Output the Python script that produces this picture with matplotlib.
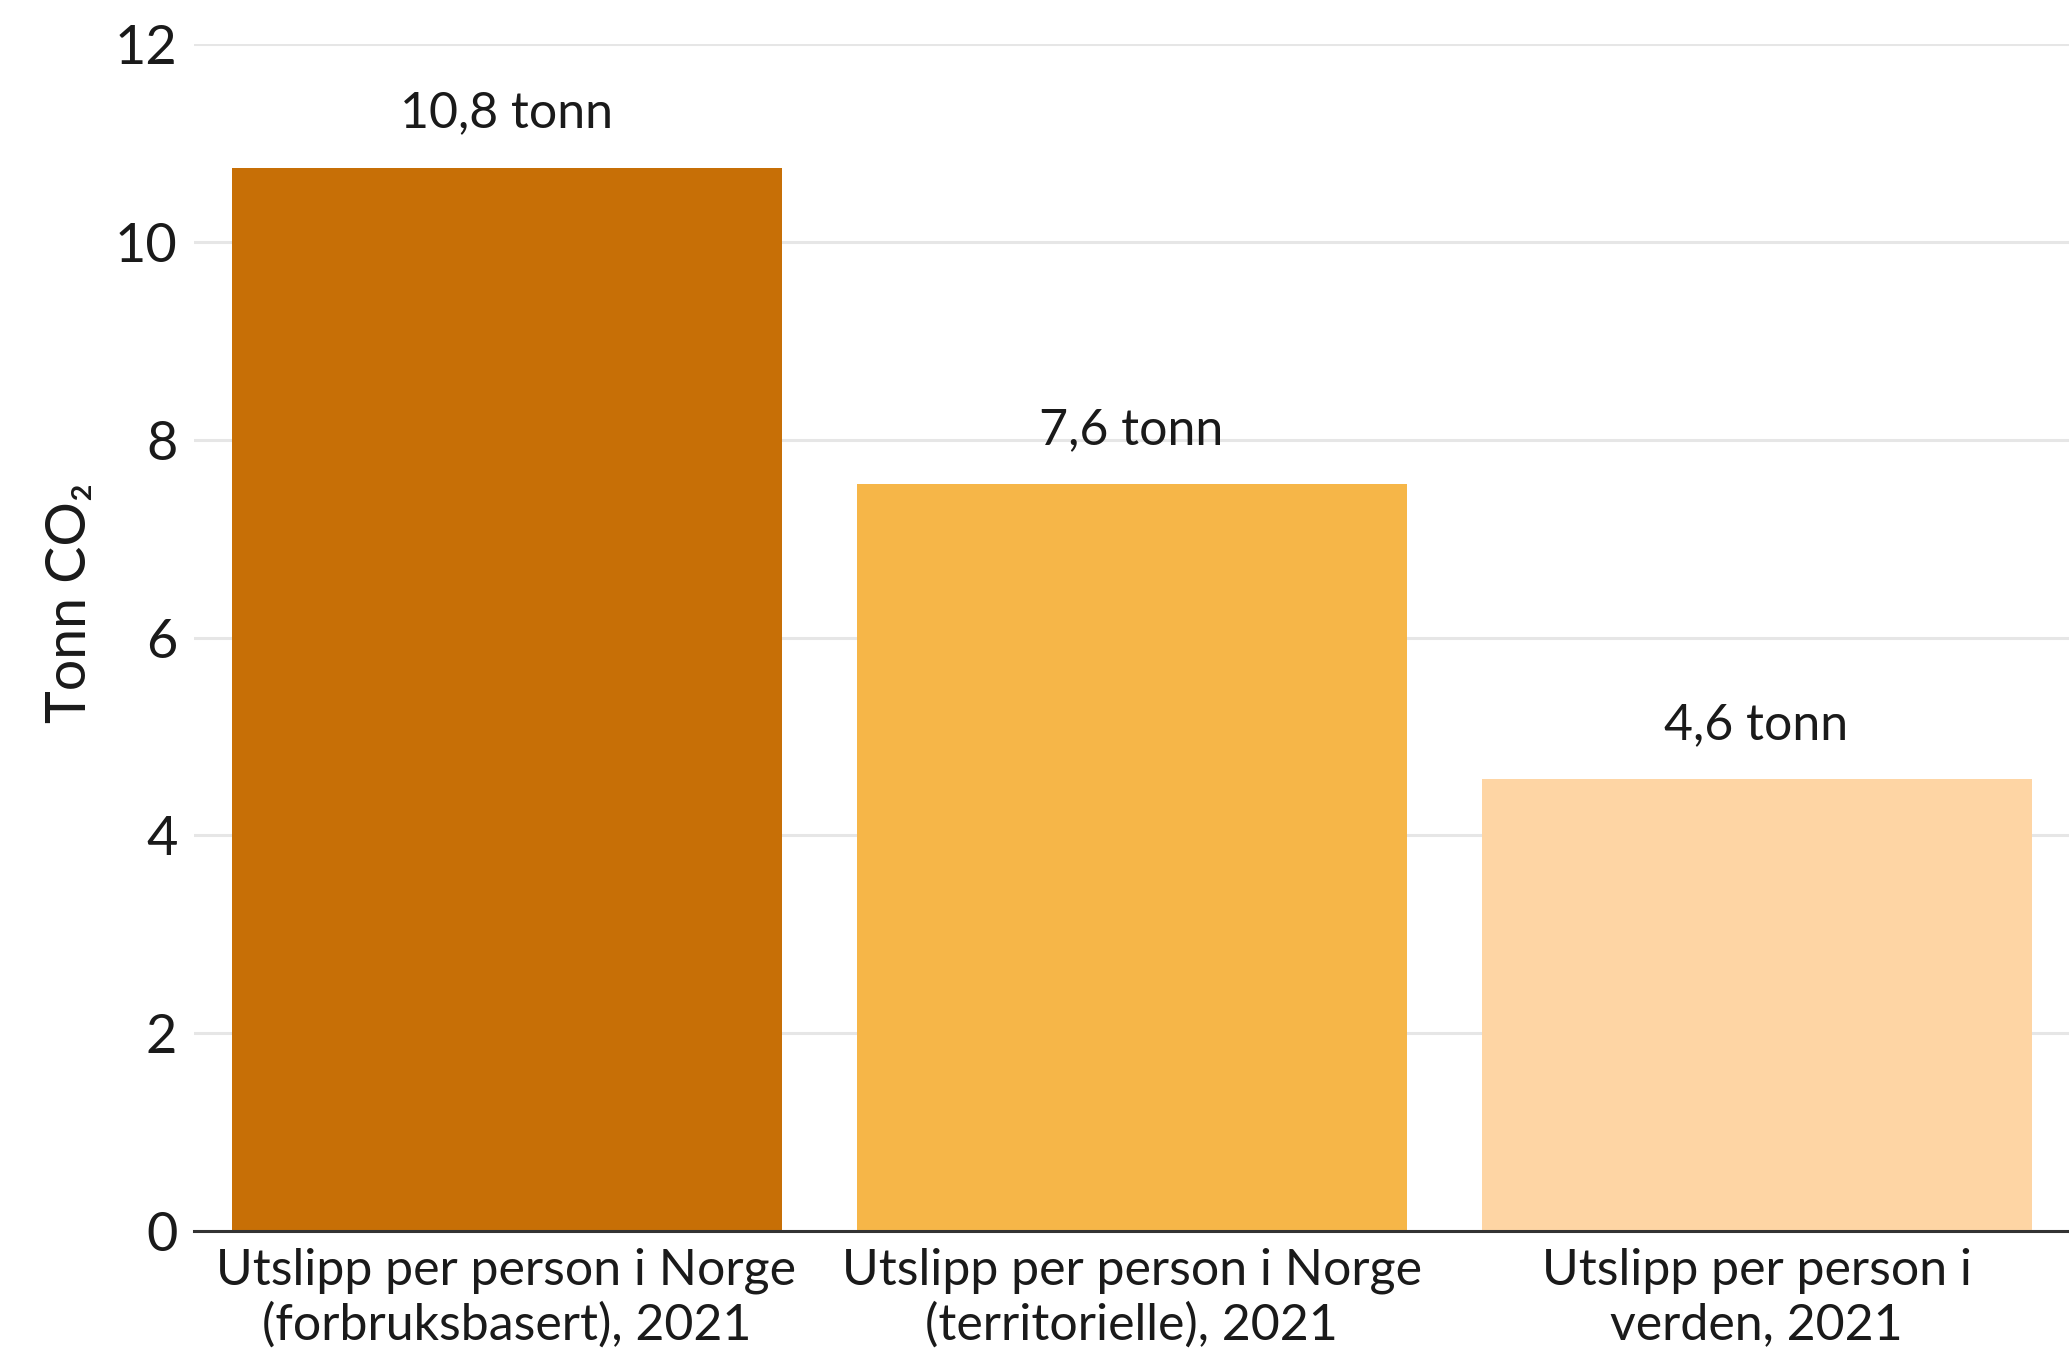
import matplotlib
matplotlib.use("Agg")
import matplotlib.pyplot as plt

categories = ["Utslipp per person i Norge\n(forbruksbasert), 2021",
              "Utslipp per person i Norge\n(territorielle), 2021",
              "Utslipp per person i\nverden, 2021"]
values = [10.75, 7.55, 4.57]
value_labels = ["10,8 tonn", "7,6 tonn", "4,6 tonn"]
yticks = [0, 2, 4, 6, 8, 10, 12]
colors = ["#C76F06", "#F6B648", "#FED5A4"]

plt.rcParams['font.family'] = ['Lato', 'DejaVu Sans']
txt = "#1a1a1a"

fig = plt.figure(figsize=(20.69, 13.53), dpi=100)
ax = fig.add_axes([194/2069, 1 - 1231/1353, 1 - 194/2069, (1231 - 44)/1353])

x = range(len(categories))
ax.bar(x, values, width=0.88, color=colors, zorder=3)
for xi, v, lab in zip(x, values, value_labels):
    ax.annotate(lab, (xi, v), xytext=(0, 39), textcoords="offset points",
                ha="center", va="center", fontsize=36, color=txt)

ax.set_xlim(-0.5, 2.5)
ax.set_ylim(0, 12)
ax.set_yticks(yticks)
ax.set_yticklabels([str(t) for t in yticks], fontsize=39, color=txt)
ax.set_xticks(list(x))
ax.set_xticklabels(categories, fontsize=36, color=txt, linespacing=1.22)
ax.tick_params(axis="y", length=0, pad=12)
ax.tick_params(axis="x", length=0, pad=12)
ax.yaxis.grid(True, color="#e6e6e6", linewidth=2.2, zorder=0)
ax.set_axisbelow(True)
for s in ["top", "right", "left"]:
    ax.spines[s].set_visible(False)
ax.spines["bottom"].set_color("#333333")
ax.spines["bottom"].set_linewidth(2.2)
ax.spines["bottom"].set_zorder(4)

ax.set_ylabel("Tonn CO₂", fontsize=40, color=txt)
ax.yaxis.set_label_coords(-0.052, 0.529)

fig.savefig("out.png", dpi=100, facecolor="white")
